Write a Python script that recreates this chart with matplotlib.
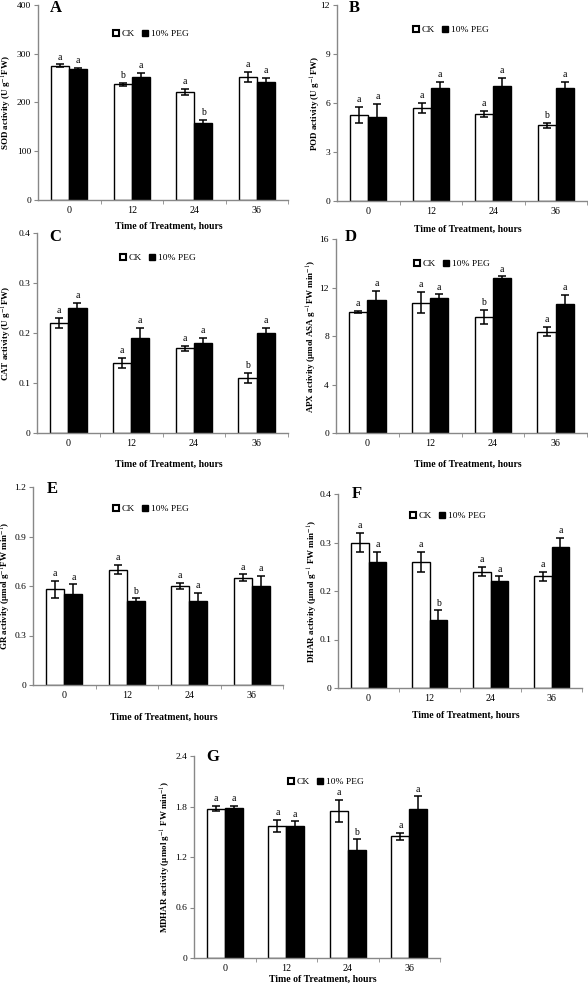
import numpy as np
import matplotlib
matplotlib.use('Agg')
import matplotlib.pyplot as plt
from matplotlib.patches import Patch

plt.rcParams['font.family'] = ['Liberation Serif', 'DejaVu Serif']
plt.rcParams['mathtext.fontset'] = 'stix'

hours = ['0', '12', '24', '36']

# SOD (A)
sod_ck = [275, 237, 222, 253]
sod_ck_err = [3, 3, 6, 10]
sod_peg = [269, 253, 158, 243]
sod_peg_err = [2, 7, 6, 7]
sod_ck_let = ['a', 'b', 'a', 'a']
sod_peg_let = ['a', 'a', 'b', 'a']

# POD (B)
pod_ck = [5.25, 5.7, 5.33, 4.63]
pod_ck_err = [0.5, 0.3, 0.2, 0.15]
pod_peg = [5.14, 6.9, 7.05, 6.9]
pod_peg_err = [0.8, 0.37, 0.5, 0.4]
pod_ck_let = ['a', 'a', 'a', 'b']
pod_peg_let = ['a', 'a', 'a', 'a']

# CAT (C)
cat_ck = [0.22, 0.14, 0.17, 0.11]
cat_ck_err = [0.01, 0.01, 0.005, 0.01]
cat_peg = [0.25, 0.19, 0.18, 0.20]
cat_peg_err = [0.01, 0.02, 0.01, 0.01]
cat_ck_let = ['a', 'a', 'a', 'b']
cat_peg_let = ['a', 'a', 'a', 'a']

# APX (D)
apx_ck = [10.0, 10.76, 9.57, 8.36]
apx_ck_err = [0.1, 0.88, 0.6, 0.4]
apx_peg = [10.95, 11.12, 12.8, 10.68]
apx_peg_err = [0.75, 0.32, 0.12, 0.72]
apx_ck_let = ['a', 'a', 'b', 'a']
apx_peg_let = ['a', 'a', 'a', 'a']

# GR (E)
gr_ck = [0.58, 0.70, 0.60, 0.65]
gr_ck_err = [0.05, 0.03, 0.02, 0.02]
gr_peg = [0.55, 0.51, 0.51, 0.60]
gr_peg_err = [0.06, 0.015, 0.05, 0.06]
gr_ck_let = ['a', 'a', 'a', 'a']
gr_peg_let = ['a', 'b', 'a', 'a']

# DHAR (F)
dhar_ck = [0.30, 0.26, 0.24, 0.23]
dhar_ck_err = [0.02, 0.02, 0.01, 0.01]
dhar_peg = [0.26, 0.14, 0.22, 0.29]
dhar_peg_err = [0.02, 0.02, 0.01, 0.02]
dhar_ck_let = ['a', 'a', 'a', 'a']
dhar_peg_let = ['a', 'b', 'a', 'a']

# MDHAR (G)
mdhar_ck = [1.776, 1.57, 1.745, 1.445]
mdhar_ck_err = [0.035, 0.07, 0.13, 0.045]
mdhar_peg = [1.78, 1.567, 1.28, 1.77]
mdhar_peg_err = [0.03, 0.055, 0.13, 0.15]
mdhar_ck_let = ['a', 'a', 'a', 'a']
mdhar_peg_let = ['a', 'a', 'b', 'a']

W, H = 588, 989
fig = plt.figure(figsize=(W / 100, H / 100), dpi=100)


def px_axes(left, top, right, bottom):
    return fig.add_axes([left / W, 1 - bottom / H, (right - left) / W, (bottom - top) / H])


def panel(box, letter, letter_xy, ck, ck_err, peg, peg_err, ck_let, peg_let,
          yticks, yfmt, ylabel, ylab_x, xlab_y, leg_xy):
    ax = px_axes(*box)
    x = np.arange(len(hours))
    bw = 0.29
    ax.bar(x - bw / 2, ck, bw, color='white', edgecolor='black', linewidth=1.0, zorder=2)
    ax.bar(x + bw / 2, peg, bw, color='black', edgecolor='black', linewidth=1.0, zorder=2)
    ax.errorbar(x - bw / 2, ck, yerr=ck_err, fmt='none', ecolor='black',
                elinewidth=1.1, capsize=3, capthick=1.1, zorder=3)
    ax.errorbar(x + bw / 2, peg, yerr=peg_err, fmt='none', ecolor='black',
                elinewidth=1.1, capsize=3, capthick=1.1, zorder=3)
    for i in range(len(hours)):
        ax.annotate(ck_let[i], (x[i] - bw / 2, ck[i] + ck_err[i]), xytext=(0, 2),
                    textcoords='offset points', ha='center', va='bottom', fontsize=7)
        ax.annotate(peg_let[i], (x[i] + bw / 2, peg[i] + peg_err[i]), xytext=(0, 2),
                    textcoords='offset points', ha='center', va='bottom', fontsize=7)
    ax.set_xlim(-0.5, len(hours) - 0.5)
    ax.set_ylim(yticks[0], yticks[-1])
    ax.set_yticks(yticks)
    ax.set_yticklabels([yfmt(v) for v in yticks], fontsize=6.8)
    ax.set_xticks(x)
    ax.set_xticklabels(hours, fontsize=7.2)
    ax.set_xticks(np.arange(0.5, len(hours), 1.0), minor=True)
    ax.tick_params(axis='x', which='major', length=0, pad=4)
    ax.tick_params(axis='x', which='minor', length=3, color='#888888', direction='out')
    ax.tick_params(axis='y', length=3, color='#888888', direction='out', pad=2)
    for s in ['top', 'right']:
        ax.spines[s].set_visible(False)
    for s in ['left', 'bottom']:
        ax.spines[s].set_color('#888888')
        ax.spines[s].set_linewidth(1.0)
    ax.set_ylabel(ylabel, fontsize=6.5, fontweight='bold')
    # label anchor is the right edge of the rotated text
    ax.yaxis.set_label_coords((ylab_x + 5 - box[0]) / (box[2] - box[0]), 0.5)
    cx = (box[0] + box[2]) / 2 + 6
    fig.text(cx / W, 1 - xlab_y / H, 'Time of Treatment, hours', fontsize=7,
             fontweight='bold', ha='center', va='center')
    fig.text(letter_xy[0] / W, 1 - letter_xy[1] / H, letter, fontsize=12,
             fontweight='bold', ha='left', va='center')
    handles = [Patch(facecolor='white', edgecolor='black', linewidth=1.5),
               Patch(facecolor='black', edgecolor='black')]
    fig.legend(handles, ['CK', '10% PEG'], loc='center left',
               bbox_to_anchor=(leg_xy[0] / W, 1 - leg_xy[1] / H), ncol=2,
               frameon=False, fontsize=6.8, handlelength=0.6, handleheight=0.6,
               handletextpad=0.3, columnspacing=0.8, borderpad=0, borderaxespad=0)
    return ax


def fmt_int(v):
    return '%d' % v


def fmt_1(v):
    return '0' if v == 0 else ('%.1f' % v)


panel((38, 5, 288, 200), 'A', (50, 8), sod_ck, sod_ck_err, sod_peg, sod_peg_err,
      sod_ck_let, sod_peg_let, [0, 100, 200, 300, 400], fmt_int,
      'SOD activity (U g$^{-1}$FW)', 9, 226, (113, 34))
panel((337, 5, 587, 201), 'B', (349, 8), pod_ck, pod_ck_err, pod_peg, pod_peg_err,
      pod_ck_let, pod_peg_let, [0, 3, 6, 9, 12], fmt_int,
      'POD activity (U g$^{-1}$FW)', 318, 229, (413, 30))
panel((37, 233, 288, 433), 'C', (49, 237), cat_ck, cat_ck_err, cat_peg, cat_peg_err,
      cat_ck_let, cat_peg_let, [0, 0.1, 0.2, 0.3, 0.4], fmt_1,
      'CAT activity (U g$^{-1}$FW)', 9, 464, (120, 258))
panel((336, 239, 587, 433), 'D', (345, 237), apx_ck, apx_ck_err, apx_peg, apx_peg_err,
      apx_ck_let, apx_peg_let, [0, 4, 8, 12, 16], fmt_int,
      'APX activity (μmol ASA g$^{-1}$FW min$^{-1}$)', 314, 464, (414, 264))
panel((33, 487, 283, 685), 'E', (47, 489), gr_ck, gr_ck_err, gr_peg, gr_peg_err,
      gr_ck_let, gr_peg_let, [0, 0.3, 0.6, 0.9, 1.2], fmt_1,
      'GR activity (μmol g$^{-1}$FW min$^{-1}$)', 8, 717, (113, 509))
panel((338, 494, 582, 688), 'F', (352, 494), dhar_ck, dhar_ck_err, dhar_peg, dhar_peg_err,
      dhar_ck_let, dhar_peg_let, [0, 0.1, 0.2, 0.3, 0.4], fmt_1,
      'DHAR activity (μmol g$^{-1}$ FW min$^{-1}$)', 315, 715, (410, 516))
panel((194, 756, 440, 958), 'G', (206, 757), mdhar_ck, mdhar_ck_err, mdhar_peg, mdhar_peg_err,
      mdhar_ck_let, mdhar_peg_let, [0, 0.6, 1.2, 1.8, 2.4], fmt_1,
      'MDHAR activity (μmol g$^{-1}$ FW min$^{-1}$)', 168, 979, (288, 782))

fig.savefig('out.png', dpi=100)
